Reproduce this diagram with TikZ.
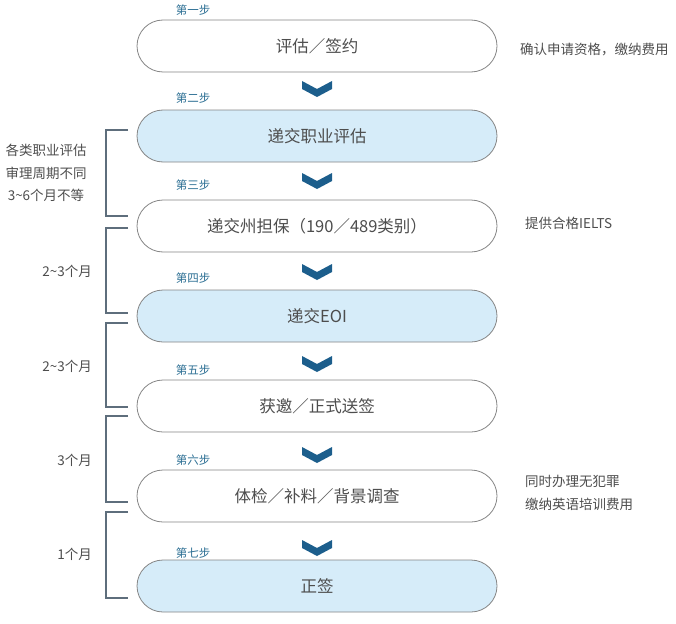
\documentclass[tikz,border=0pt]{standalone}
\usepackage{fontspec}
\setmainfont{Noto Sans CJK SC}
\usepackage{xcolor}
\usepackage{tikz}
\usetikzlibrary{calc, positioning}

\definecolor{stepblue}{HTML}{2B6E93}
\definecolor{chevblue}{HTML}{1C5E8C}
\definecolor{pillblue}{HTML}{D6ECF9}
\definecolor{pillline}{HTML}{858585}
\definecolor{txtgray}{HTML}{4D4D4D}
\definecolor{brackgray}{HTML}{5E6E7C}

\begin{document}
\begin{tikzpicture}[
    x=1pt, y=-1pt,
    pill/.style={rectangle, draw=pillline, line width=0.8pt, fill=white, rounded corners=26pt, minimum width=360pt, minimum height=52pt, inner sep=0pt, font=\fontsize{16.5}{18}\selectfont, text=txtgray},
    pillhl/.style={pill, fill=pillblue},
    steplabel/.style={font=\fontsize{11.5}{13}\selectfont, text=stepblue, inner sep=0pt},
    note/.style={font=\fontsize{13.5}{23}\selectfont, text=txtgray, inner sep=0pt, anchor=west, align=left},
    span/.style={font=\fontsize{13.5}{22.5}\selectfont, text=txtgray, inner sep=0pt, align=center},
    bracket/.style={draw=brackgray, line width=1.4pt},
    chevron/.style={fill=chevblue}
]
\useasboundingbox (0,0) rectangle (676,623);

% Steps
\node[pill] (s1) at (317,46) {评估／签约};
\node[pillhl] (s2) at (317,136) {递交职业评估};
\node[pill] (s3) at (317,226) {递交州担保（190／489类别）};
\node[pillhl] (s4) at (317,316) {递交EOI};
\node[pill] (s5) at (317,406) {获邀／正式送签};
\node[pill] (s6) at (317,496) {体检／补料／背景调查};
\node[pillhl] (s7) at (317,586) {正签};

% Step labels
\node[steplabel] (l1) at (193,10) {第一步};
\node[steplabel] (l2) at (193,98) {第二步};
\node[steplabel] (l3) at (193,185) {第三步};
\node[steplabel] (l4) at (193,278) {第四步};
\node[steplabel] (l5) at (193,370) {第五步};
\node[steplabel] (l6) at (193,460) {第六步};
\node[steplabel] (l7) at (193,553) {第七步};

% Chevrons between steps
\fill[chevron] (317,89) ++(-15,-8) -- ++(15,8) -- ++(15,-8) -- ++(0,8) -- ++(-15,8) -- ++(-15,-8) -- cycle;
\fill[chevron] (317,181) ++(-15,-8) -- ++(15,8) -- ++(15,-8) -- ++(0,8) -- ++(-15,8) -- ++(-15,-8) -- cycle;
\fill[chevron] (317,272) ++(-15,-8) -- ++(15,8) -- ++(15,-8) -- ++(0,8) -- ++(-15,8) -- ++(-15,-8) -- cycle;
\fill[chevron] (317,364) ++(-15,-8) -- ++(15,8) -- ++(15,-8) -- ++(0,8) -- ++(-15,8) -- ++(-15,-8) -- cycle;
\fill[chevron] (317,455) ++(-15,-8) -- ++(15,8) -- ++(15,-8) -- ++(0,8) -- ++(-15,8) -- ++(-15,-8) -- cycle;
\fill[chevron] (317,548) ++(-15,-8) -- ++(15,8) -- ++(15,-8) -- ++(0,8) -- ++(-15,8) -- ++(-15,-8) -- cycle;

% Brackets
\draw[bracket] (128,130) -- (106,130) -- (106,216) -- (128,216);
\draw[bracket] (128,228) -- (106,228) -- (106,313) -- (128,313);
\draw[bracket] (128,323) -- (106,323) -- (106,407) -- (128,407);
\draw[bracket] (128,416) -- (106,416) -- (106,502) -- (128,502);
\draw[bracket] (128,512) -- (106,512) -- (106,598) -- (128,598);

% Durations
\node[span] (d1) at (46,173) {各类职业评估\\审理周期不同\\3\textasciitilde6个月不等};
\node[span, anchor=east] (d2) at (92,271) {2\textasciitilde3个月};
\node[span, anchor=east] (d3) at (92,366) {2\textasciitilde3个月};
\node[span, anchor=east] (d4) at (92,460) {3个月};
\node[span, anchor=east] (d5) at (92,554) {1个月};

% Notes
\node[note] (n1) at (520,50) {确认申请资格，缴纳费用};
\node[note] (n2) at (525,223) {提供合格IELTS};
\node[note] (n3) at (525,493) {同时办理无犯罪\\缴纳英语培训费用};

\end{tikzpicture}
\end{document}
